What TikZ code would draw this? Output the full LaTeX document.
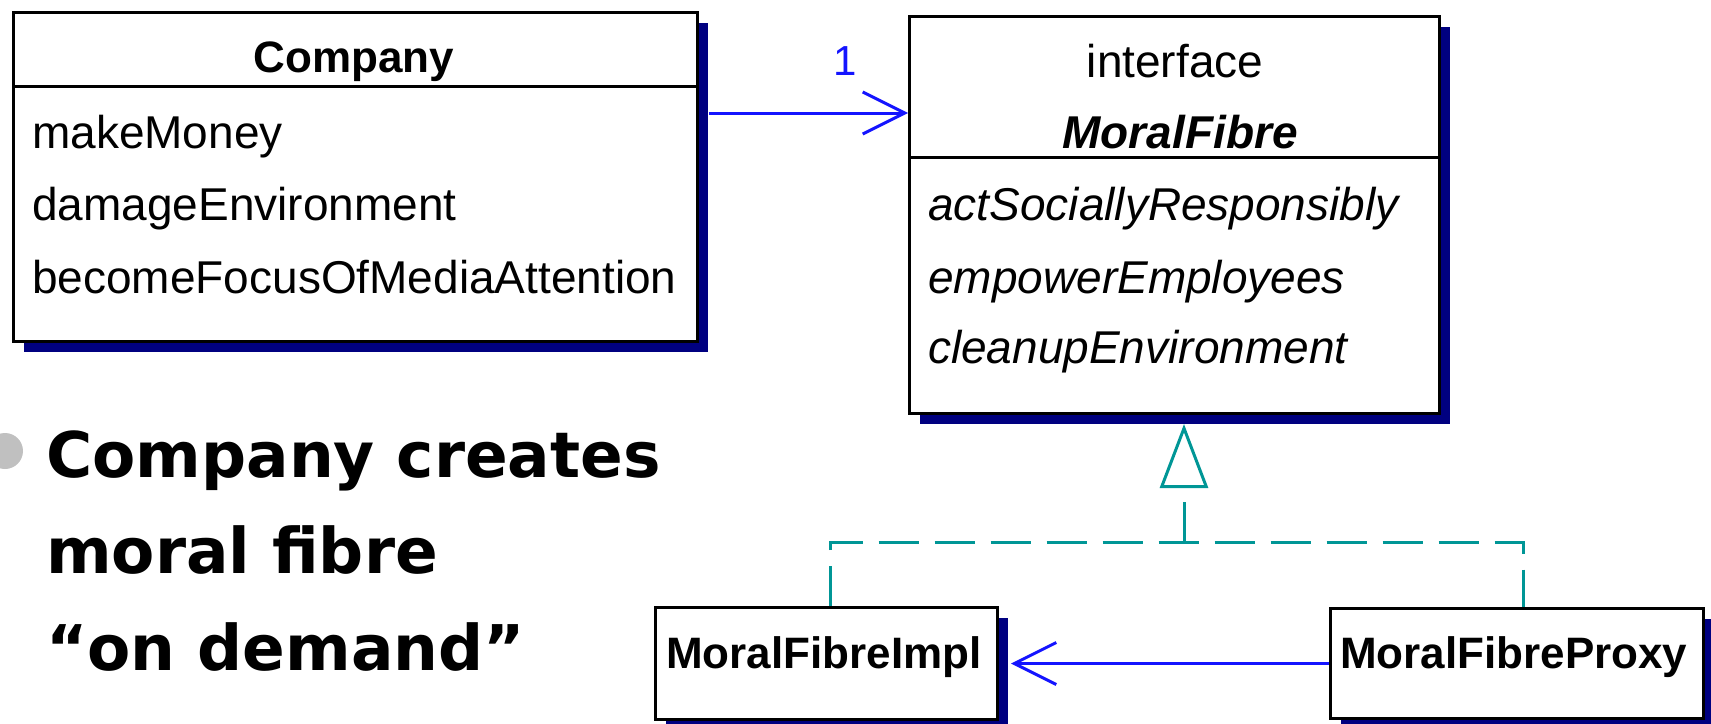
\documentclass[tikz,border=0pt]{standalone}
\usepackage{fontspec}
\setmainfont{Liberation Sans}
\newfontfamily\slidefont{DejaVu Sans}
\usepackage{tikz}
\usetikzlibrary{positioning, calc, arrows.meta, shadows}
\definecolor{umlnavy}{RGB}{0,0,128}
\definecolor{umlblue}{RGB}{20,20,255}
\definecolor{umlteal}{RGB}{0,150,150}
\definecolor{bulletgray}{RGB}{192,192,192}
\tikzset{
  classbox/.style={draw, line width=3pt, fill=white, anchor=north west, inner sep=0pt,
    drop shadow={shadow xshift=10pt, shadow yshift=-10pt, fill=umlnavy, opacity=1}},
  umltext/.style={anchor=base west, inner sep=0pt, font=\fontsize{46}{52}\selectfont},
  umlcentre/.style={anchor=base, inner sep=0pt, font=\fontsize{46}{52}\selectfont},
  umlbold/.style={inner sep=0pt, font=\fontsize{44}{50}\selectfont\bfseries},
  assoc/.style={umlblue, line width=3pt, -{Straight Barb[length=42pt, width=42pt]}},
  realize/.style={umlteal, line width=3pt, dash pattern=on 40pt off 16pt},
  slidetext/.style={anchor=base west, inner sep=0pt, font=\slidefont\bfseries\fontsize{63}{70}\selectfont}
}
\begin{document}
\begin{tikzpicture}[x=1pt, y=-1pt]
    \useasboundingbox (0,0) rectangle (1711,723);
    \node[classbox, minimum width=684pt, minimum height=329pt] (company) at (12,11) {};
    \node[classbox, minimum width=530pt, minimum height=397pt] (fibre) at (908,15) {};
    \node[classbox, minimum width=342pt, minimum height=112pt] (impl) at (654,606) {};
    \node[classbox, minimum width=373pt, minimum height=110pt] (proxy) at (1329,607) {};
    \draw[line width=3pt] ([yshift=-75pt]company.north west) -- ([yshift=-75pt]company.north east);
    \draw[line width=3pt] ([yshift=-142pt]fibre.north west) -- ([yshift=-142pt]fibre.north east);
    \node[umlbold, anchor=base] (companyname) at (354,72) {Company};
    \node[umltext] (money) at (32,148) {makeMoney};
    \node[umltext] (damage) at (32,220) {damageEnvironment};
    \node[umltext] (media) at (32,293) {becomeFocusOfMediaAttention};
    \node[umlcentre] (stereotype) at (1175,77) {interface};
    \node[umlbold, anchor=base, font=\fontsize{46}{52}\selectfont\bfseries\itshape] (fibrename) at (1180,148) {MoralFibre};
    \node[umltext, font=\fontsize{46}{52}\selectfont\itshape] (act) at (928,220) {actSociallyResponsibly};
    \node[umltext, font=\fontsize{46}{52}\selectfont\itshape] (empower) at (928,293) {empowerEmployees};
    \node[umltext, font=\fontsize{46}{52}\selectfont\itshape] (cleanup) at (928,363) {cleanupEnvironment};
    \node[umlbold, anchor=base west] (implname) at (666,668) {MoralFibreImpl};
    \node[umlbold, anchor=base west] (proxyname) at (1340,668) {MoralFibreProxy};
    \coordinate (assocstart) at ([shift={(10,102)}]company.north east);
    \draw[assoc] (assocstart) -- (assocstart -| fibre.west);
    \node[anchor=base, inner sep=0pt, umlblue, font=\fontsize{42}{48}\selectfont] (mult) at (845,75) {1};
    \draw[assoc] (proxy.west) -- ([xshift=12pt]impl.east);
    \coordinate (fork) at (1184,542);
    \draw[realize] ([xshift=4pt]impl.north) |- (fork) -| ([xshift=6pt]proxy.north);
    \draw[realize, shorten >=9pt, -{Triangle[open, length=64pt, width=48pt]}] (fork) -- (fork |- fibre.south);
    \node[circle, fill=bulletgray, minimum size=36pt, inner sep=0pt] (bullet) at (5,451) {};
    \node[slidetext] (line1) at (46,477) {Company creates};
    \node[slidetext] (line2) at (46,573) {moral fibre};
    \node[slidetext] (line3) at (46,670) {“on demand”};
\end{tikzpicture}
\end{document}
